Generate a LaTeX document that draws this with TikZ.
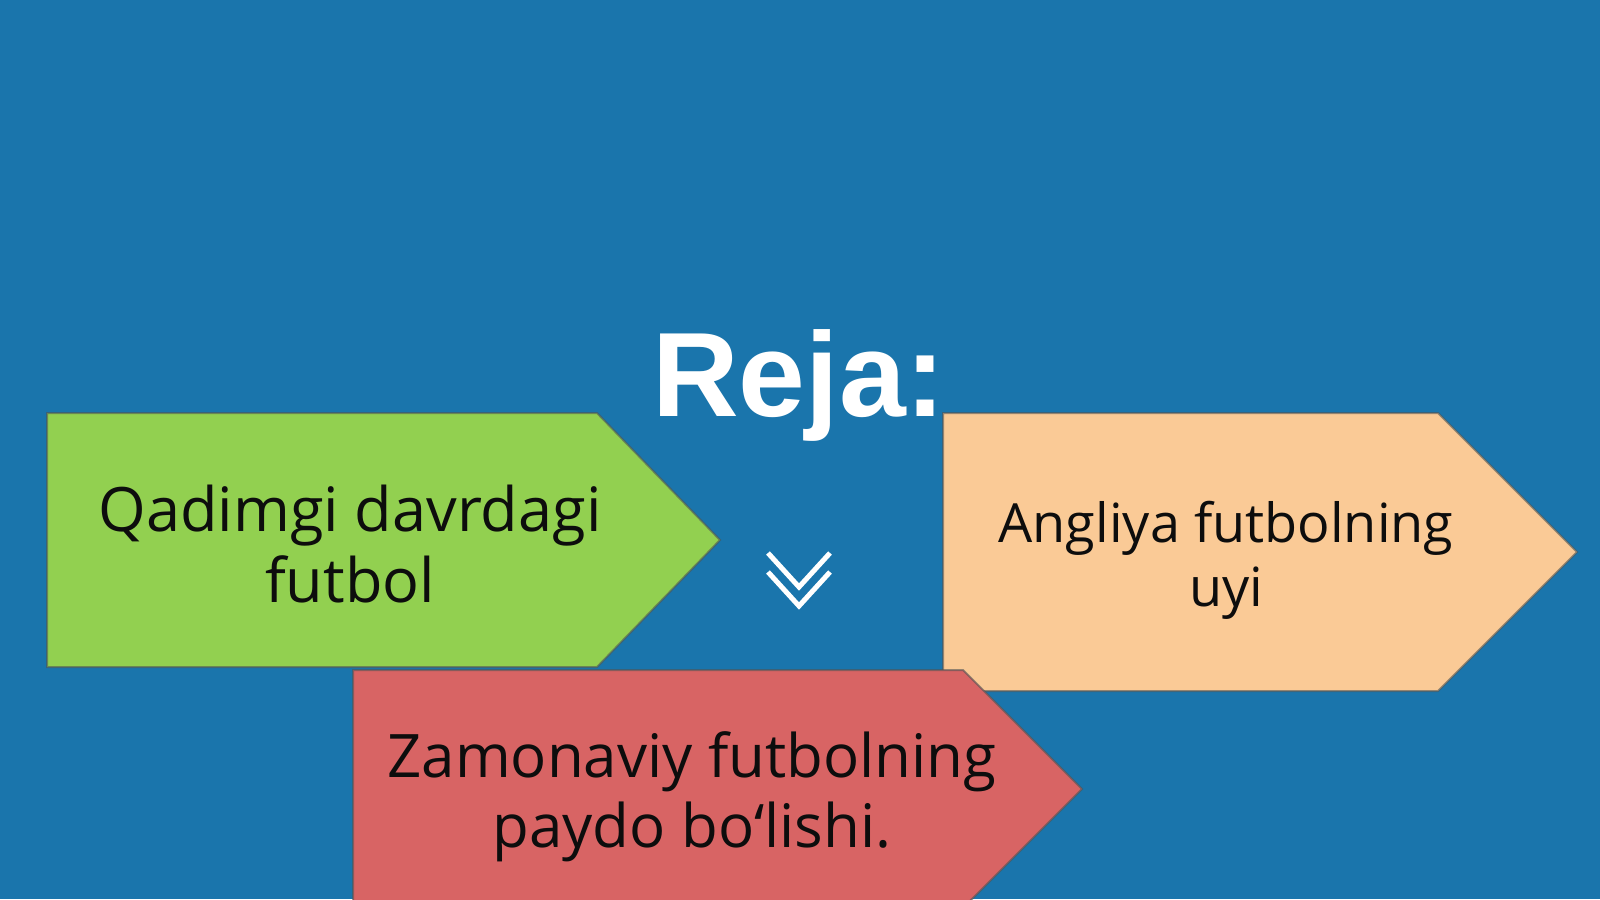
\documentclass[tikz,border=0pt]{standalone}
\usepackage{fontspec}
\newfontfamily\bodyfont{Open Sans}
\newfontfamily\titlefont{Liberation Sans}
\definecolor{bgblue}{RGB}{26,117,172}
\definecolor{boxgreen}{RGB}{146,208,80}
\definecolor{boxpeach}{RGB}{250,202,150}
\definecolor{boxred}{RGB}{216,100,100}
\definecolor{edgegray}{RGB}{80,85,85}
\begin{document}
\begin{tikzpicture}[x=0.5pt,y=-0.5pt,
  arrowbox/.style={draw=edgegray,draw opacity=0.6,line width=1pt,line join=miter},
  boxtext/.style={inner sep=0pt,align=center,text=black!95,font=\bodyfont\fontsize{30}{35}\selectfont},
  chevronline/.style={draw=white,line width=2.5pt,line join=miter}]
\useasboundingbox (0,0) rectangle (1600,899);
\clip (0,0) rectangle (1600,899);
\fill[bgblue] (0,0) rectangle (1600,899);

% arrow-shaped boxes
\path[arrowbox,fill=boxgreen] (47,413) -- (597,413) -- (720,540) -- (597,667) -- (47,667) -- cycle;
\path[arrowbox,fill=boxpeach] (943,413) -- (1438,413) -- (1577,552) -- (1438,691) -- (943,691) -- cycle;
\path[arrowbox,fill=boxred] (353,670) -- (963,670) -- (1082,789) -- (963,908) -- (353,908) -- cycle;

% title
\node[anchor=base,inner sep=0pt,text=white,font=\titlefont\bfseries\fontsize{60}{72}\selectfont] (title) at (799,416) {Reja:};

% texts
\node[boxtext,font=\bodyfont\fontsize{30.6}{35.5}\selectfont] (t1) at (350,544) {Qadimgi davrdagi\\futbol};
\node[boxtext,font=\bodyfont\fontsize{27}{32}\selectfont] (t2) at (1226,560) {Angliya futbolning\\uyi};
\node[boxtext] (t3) at (692,797) {Zamonaviy futbolning\\paydo bo‘lishi.};

% double chevron
\coordinate (c1a) at (768,553);
\coordinate (c1b) at (799,587);
\coordinate (c1c) at (830,553);
\coordinate (c2a) at (768,572);
\coordinate (c2b) at (799,606);
\coordinate (c2c) at (830,572);
\draw[chevronline] (c1a) -- (c1b) -- (c1c);
\draw[chevronline] (c2a) -- (c2b) -- (c2c);
\end{tikzpicture}
\end{document}
